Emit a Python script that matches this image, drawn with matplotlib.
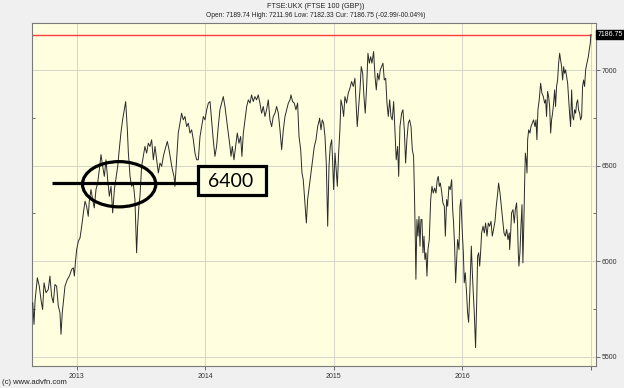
import matplotlib
matplotlib.use('Agg')
import matplotlib.pyplot as plt
from matplotlib.patches import Ellipse, Rectangle
from matplotlib.ticker import MultipleLocator

# FTSE 100 close (x = decimal year)
t_year = [
    2012.658, 2012.668, 2012.676, 2012.694, 2012.709, 2012.722, 2012.735, 2012.746,
    2012.761, 2012.779, 2012.792, 2012.805, 2012.818, 2012.831, 2012.844, 2012.857,
    2012.870, 2012.878, 2012.888, 2012.896, 2012.909, 2012.927, 2012.943, 2012.961,
    2012.974, 2012.982, 2012.992, 2013.000, 2013.013, 2013.026, 2013.039, 2013.052,
    2013.065, 2013.077, 2013.090, 2013.098, 2013.111, 2013.124, 2013.137, 2013.150,
    2013.163, 2013.176, 2013.189, 2013.202, 2013.215, 2013.228, 2013.241, 2013.254,
    2013.267, 2013.280, 2013.293, 2013.306, 2013.319, 2013.331, 2013.344, 2013.357,
    2013.370, 2013.381, 2013.394,
    2013.402, 2013.415, 2013.427, 2013.440, 2013.453, 2013.466, 2013.474, 2013.484,
    2013.492, 2013.505, 2013.518, 2013.531, 2013.544, 2013.557, 2013.570, 2013.583,
    2013.596, 2013.609, 2013.622, 2013.635, 2013.648, 2013.661, 2013.674, 2013.687,
    2013.705, 2013.718, 2013.731, 2013.744, 2013.757, 2013.764, 2013.777, 2013.790,
    2013.803, 2013.816, 2013.829, 2013.842, 2013.855, 2013.868, 2013.881, 2013.894,
    2013.907, 2013.920, 2013.933, 2013.946, 2013.959, 2013.972, 2013.985, 2013.998,
    2014.011, 2014.024, 2014.037, 2014.049, 2014.062, 2014.075, 2014.088, 2014.101,
    2014.114, 2014.127, 2014.140,
    2014.153, 2014.166, 2014.179, 2014.192, 2014.200, 2014.210, 2014.223, 2014.236,
    2014.249, 2014.262, 2014.275, 2014.285, 2014.296, 2014.309, 2014.322, 2014.335,
    2014.348, 2014.360, 2014.373, 2014.386, 2014.399, 2014.412, 2014.425, 2014.438,
    2014.451, 2014.464, 2014.477, 2014.490, 2014.503, 2014.516, 2014.529, 2014.542,
    2014.555, 2014.568, 2014.581, 2014.594, 2014.607, 2014.620, 2014.633, 2014.646,
    2014.659, 2014.666, 2014.679, 2014.692, 2014.705, 2014.718, 2014.729, 2014.742,
    2014.752, 2014.762, 2014.775, 2014.786, 2014.796, 2014.809, 2014.822, 2014.835,
    2014.848, 2014.861, 2014.874, 2014.887,
    2014.889, 2014.900, 2014.910, 2014.920, 2014.931, 2014.941, 2014.952, 2014.962,
    2014.972, 2014.983, 2014.990, 2014.998, 2015.009, 2015.016, 2015.027, 2015.037,
    2015.047, 2015.055, 2015.066, 2015.076, 2015.086, 2015.099, 2015.112, 2015.125,
    2015.138, 2015.151, 2015.164, 2015.174, 2015.182, 2015.193, 2015.203, 2015.213,
    2015.224, 2015.234, 2015.244, 2015.255, 2015.265, 2015.276, 2015.286, 2015.296,
    2015.309, 2015.320, 2015.330, 2015.340, 2015.351, 2015.361, 2015.371, 2015.382,
    2015.392, 2015.403, 2015.413, 2015.423, 2015.434, 2015.444, 2015.454, 2015.465,
    2015.475, 2015.485, 2015.496, 2015.504, 2015.514, 2015.527, 2015.537, 2015.548,
    2015.558, 2015.568, 2015.579, 2015.589, 2015.600, 2015.610, 2015.620,
    2015.626, 2015.633, 2015.638, 2015.646, 2015.654, 2015.662, 2015.670, 2015.677,
    2015.685, 2015.693, 2015.701, 2015.708, 2015.716, 2015.724, 2015.732, 2015.742,
    2015.753, 2015.763, 2015.773, 2015.784, 2015.794, 2015.804, 2015.812, 2015.820,
    2015.828, 2015.838, 2015.848, 2015.859, 2015.867, 2015.877, 2015.885, 2015.895,
    2015.905, 2015.916, 2015.924, 2015.931, 2015.939, 2015.947, 2015.955, 2015.962,
    2015.973, 2015.981, 2015.988, 2015.999, 2016.007, 2016.014, 2016.022, 2016.032,
    2016.040, 2016.048, 2016.058, 2016.069, 2016.077, 2016.084, 2016.092, 2016.102,
    2016.110, 2016.118, 2016.126, 2016.134, 2016.141, 2016.149, 2016.160, 2016.170,
    2016.180, 2016.191, 2016.201, 2016.211, 2016.222, 2016.232, 2016.242, 2016.253,
    2016.263, 2016.274, 2016.281, 2016.292, 2016.302, 2016.312, 2016.323, 2016.333,
    2016.344, 2016.354, 2016.364,
    2016.367, 2016.375, 2016.382, 2016.393, 2016.403, 2016.411, 2016.421, 2016.429,
    2016.434, 2016.439, 2016.447, 2016.455, 2016.463, 2016.470, 2016.478, 2016.483,
    2016.489, 2016.496, 2016.502, 2016.507, 2016.515, 2016.525, 2016.533, 2016.543,
    2016.553, 2016.564, 2016.572, 2016.579, 2016.587, 2016.597, 2016.608, 2016.618,
    2016.629, 2016.639, 2016.647, 2016.654, 2016.662, 2016.670, 2016.678, 2016.686,
    2016.693, 2016.701, 2016.709, 2016.717, 2016.724, 2016.732, 2016.740, 2016.748,
    2016.756, 2016.763, 2016.771, 2016.779, 2016.787, 2016.794, 2016.802, 2016.810,
    2016.818, 2016.826, 2016.833, 2016.841, 2016.849, 2016.857, 2016.864, 2016.872,
    2016.880, 2016.888, 2016.896, 2016.903, 2016.911, 2016.919, 2016.927, 2016.934,
    2016.942, 2016.950, 2016.958, 2016.968, 2016.979, 2016.986, 2016.994, 2016.999,
]
close = [
    5782, 5669, 5791, 5913, 5869, 5800, 5747, 5887,
    5835, 5852, 5922, 5817, 5782, 5878, 5869, 5765,
    5730, 5617, 5730, 5782, 5869, 5904, 5922, 5957,
    5965, 5922, 6009, 6061, 6105, 6122, 6183, 6253,
    6314, 6288, 6235, 6314, 6375, 6323, 6279, 6375,
    6409, 6479, 6558, 6497, 6444, 6531, 6427, 6340,
    6392, 6253, 6375, 6436, 6497, 6584, 6671, 6740,
    6793, 6836, 6688,
    6566, 6444, 6392, 6409, 6323, 6044, 6183, 6288,
    6340, 6497, 6549, 6601, 6566, 6618, 6601, 6636,
    6531, 6601, 6531, 6462, 6514, 6497, 6549, 6584,
    6627, 6584, 6531, 6479, 6444, 6392, 6531, 6671,
    6723, 6775, 6740, 6758, 6705, 6723, 6671, 6688,
    6636, 6566, 6531, 6531, 6653, 6705, 6758, 6740,
    6793, 6828, 6836, 6740, 6636, 6549, 6601, 6705,
    6793, 6828, 6862,
    6810, 6740, 6671, 6601, 6549, 6601, 6531, 6601,
    6671, 6618, 6653, 6549, 6671, 6740, 6810, 6845,
    6828, 6871, 6836, 6862, 6845, 6871, 6828, 6775,
    6810, 6758, 6793, 6845, 6740, 6705, 6758, 6775,
    6810, 6775, 6688, 6584, 6688, 6758, 6793, 6828,
    6845, 6871, 6836, 6828, 6793, 6828, 6653, 6584,
    6462, 6427, 6305, 6200, 6323, 6392, 6462, 6531,
    6601, 6636, 6705, 6740,
    6749, 6688, 6740, 6723, 6653, 6514, 6183, 6497,
    6601, 6636, 6531, 6375, 6566, 6497, 6392, 6566,
    6688, 6845, 6810, 6758, 6862, 6828, 6880, 6906,
    6941, 6915, 6958, 6810, 6705, 6810, 6897, 7019,
    6984, 6862, 6775, 6915, 7089, 7037, 7071, 7037,
    7098, 6967, 6897, 6984, 6949, 7002, 7019, 7037,
    6949, 6958, 6828, 6758, 6845, 6758, 6740, 6836,
    6688, 6531, 6601, 6444, 6705, 6775, 6793, 6688,
    6514, 6636, 6723, 6740, 6705, 6584, 6549,
    6375, 6131, 5905, 6218, 6131, 6235, 6079, 6218,
    6218, 6044, 6131, 6009, 6044, 5922, 6061, 6113,
    6323, 6392, 6357, 6383, 6357, 6427, 6444, 6392,
    6409, 6366, 6305, 6288, 6131, 6323, 6288, 6392,
    6375, 6427, 6270, 6200, 6079, 5887, 6009, 6113,
    6061, 6288, 6323, 6148, 6044, 5887, 5939, 5835,
    5730, 5680, 5850, 6079, 5939, 5835, 5730, 5547,
    5765, 6026, 6044, 5974, 6044, 6148, 6183, 6148,
    6200, 6131, 6200, 6183, 6209, 6131, 6166, 6209,
    6288, 6357, 6409, 6357, 6288, 6218, 6148, 6131,
    6166, 6113, 6148,
    6061, 6148, 6253, 6270, 6200, 6270, 6305, 6183,
    6044, 5974, 6044, 6183, 6296, 5991, 6218, 6392,
    6566, 6531, 6462, 6636, 6688, 6671, 6705, 6723,
    6740, 6705, 6740, 6636, 6793, 6845, 6932, 6880,
    6862, 6828, 6845, 6758, 6889, 6862, 6810, 6671,
    6740, 6775, 6828, 6897, 6810, 6915, 6949, 7037,
    7089, 7054, 7019, 6949, 7019, 6984, 7002, 6967,
    6932, 6845, 6775, 6705, 6897, 6758, 6740, 6793,
    6775, 6828, 6845, 6793, 6775, 6740, 6758, 6915,
    6949, 6915, 7002, 7037, 7071, 7106, 7141, 7187,
]

last_price = 7186.75
title = 'FTSE:UKX (FTSE 100 (GBP))'
subtitle = 'Open: 7189.74 High: 7211.96 Low: 7182.33 Cur: 7186.75 (-02.99/-00.04%)'
year_ticks = [2013, 2014, 2015, 2016, 2017]
year_labels = ['2013', '2014', '2015', '2016', '']
price_ticks = [5500, 6000, 6500, 7000]
marked_label = '6400'

plt.rcParams['font.family'] = ['Liberation Sans', 'DejaVu Sans']

x_lo, x_hi = 2012.655, 2017.036
y_lo, y_hi = 5451, 7250

fig = plt.figure(figsize=(6.24, 3.88), dpi=100, facecolor='#f0f0f0')
ax = fig.add_axes([0.0518, 0.0567, 0.9028, 0.8853])
ax.set_facecolor('#ffffe0')

ax.plot(t_year, close, color='#2a2a2a', lw=0.7, zorder=3)
ax.hlines(last_price, x_lo, t_year[-1], color='#ff3b3b', lw=1.0, zorder=2)

ax.set_xlim(x_lo, x_hi)
ax.set_ylim(y_lo, y_hi)
ax.set_xticks(year_ticks)
ax.set_xticklabels(year_labels)
ax.set_yticks(price_ticks)
ax.yaxis.set_minor_locator(MultipleLocator(250))
ax.yaxis.tick_right()
ax.grid(True, which='major', color='#d4d4cc', lw=0.7, zorder=0)

ax.tick_params(axis='both', which='major', direction='out', length=3, width=0.6,
               labelsize=5, colors='#555555', labelcolor='#333333')
ax.tick_params(axis='x', pad=2)
ax.tick_params(axis='y', pad=1.5)
ax.tick_params(axis='y', which='minor', left=True, right=True, direction='in',
               length=2, width=0.6, colors='#555555')
for sp in ax.spines.values():
    sp.set_color('#7a7a7a')
    sp.set_linewidth(0.8)

# hand-drawn markup: level line, ellipse and labelled box
ax.plot([2012.81, 2013.945], [6410, 6410], color='black', lw=2.3,
        solid_capstyle='butt', zorder=5)
ax.add_patch(Ellipse((2013.330, 6403), 0.570, 237, fill=False, ec='black',
                     lw=2.3, zorder=5))
ax.add_patch(Rectangle((2013.945, 6345), 0.529, 154, fc='#ffffe0', ec='black',
                       lw=2.3, zorder=5))
ax.text(2014.196, 6387, marked_label, ha='center', va='baseline', fontsize=14,
        family=['Lato', 'DejaVu Sans'], color='black', zorder=6)

# last price tag on the right
fig.text(597.5 / 624, 1 - 34.5 / 388, '7186.75', ha='left', va='center', fontsize=5,
         color='white', bbox=dict(boxstyle='square,pad=0.15', fc='black', ec='black'))

fig.text(316 / 624, 1 - 6 / 388, title, ha='center', va='center', fontsize=5.2,
         color='#222222')
fig.text(316 / 624, 1 - 15.5 / 388, subtitle, ha='center', va='center', fontsize=4.8,
         color='#222222')
fig.text(2 / 624, 1 - 383 / 388, '(c) www.advfn.com', ha='left', va='center',
         fontsize=5.5, color='#222222')

fig.savefig('out.png', dpi=100, facecolor=fig.get_facecolor())
